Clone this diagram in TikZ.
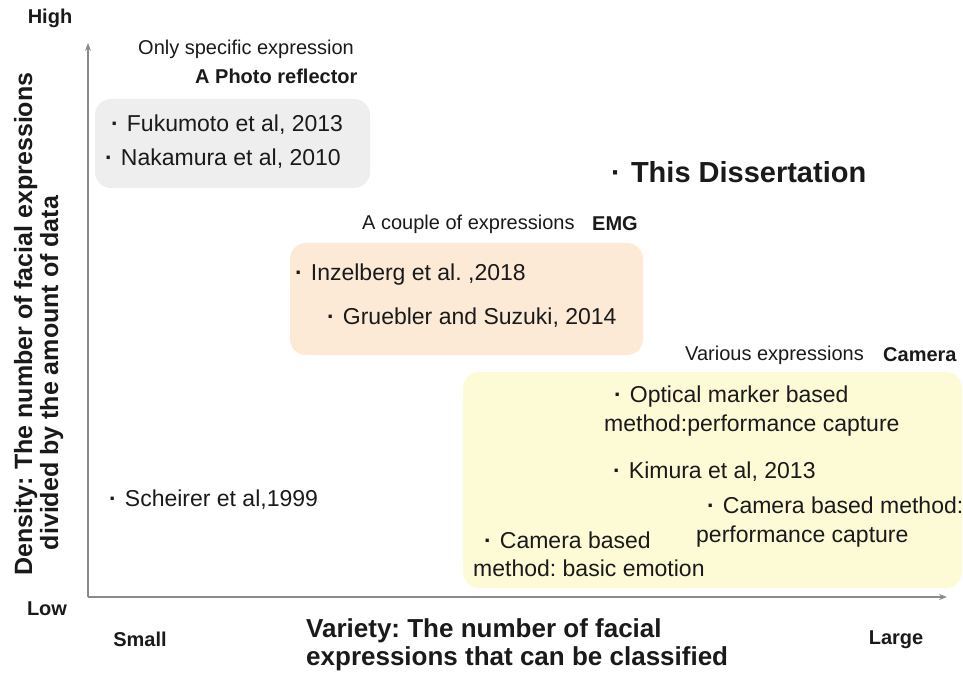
\documentclass[tikz,border=0pt]{standalone}
\usepackage{fontspec}
\setmainfont{Liberation Sans}
\usetikzlibrary{arrows.meta}
\definecolor{axisgray}{HTML}{8A8A8A}
\definecolor{boxgray}{HTML}{EEEEEE}
\definecolor{boxorange}{HTML}{FCE9D6}
\definecolor{boxyellow}{HTML}{FDFAD6}
\definecolor{txt}{HTML}{1A1A1A}
\newcommand\mydot{{\bfseries ·}\hspace{0.35em}}
\tikzset{
  axisline/.style={draw=axisgray, line width=1.4pt, -{Stealth[length=8pt,width=6pt]}},
  regionbox/.style={rounded corners=16pt, draw=none},
  itemtxt/.style={anchor=west, inner sep=0pt, font=\fontsize{23}{27}\selectfont, text=txt},
  captxt/.style={anchor=west, inner sep=0pt, font=\fontsize{20}{24}\selectfont, text=txt},
  captxtb/.style={anchor=west, inner sep=0pt, font=\fontsize{20}{24}\selectfont\bfseries, text=txt},
  endlbl/.style={anchor=center, inner sep=0pt, font=\fontsize{20}{24}\selectfont\bfseries, text=txt},
  xtitle/.style={anchor=base west, inner sep=0pt, font=\fontsize{26}{30}\selectfont\bfseries, text=txt},
  ytitle/.style={anchor=base, rotate=90, inner sep=0pt, font=\fontsize{25}{30}\selectfont\bfseries, text=txt},
}
\begin{document}
\frenchspacing
\begin{tikzpicture}[x=1pt,y=-1pt]
\useasboundingbox (0,0) rectangle (963,673);
% regions
\fill[boxgray, regionbox] (95,99) rectangle (370,188);
\fill[boxorange, regionbox] (290,243) rectangle (643,355);
\fill[boxyellow, regionbox] (463,372) rectangle (962,588);
% axes
\coordinate (O) at (88,597);
\coordinate (Ytop) at (88,43);
\coordinate (Xend) at (947,597);
\draw[axisline] (O) -- (Ytop);
\draw[axisline] (O) -- (Xend);
% axis end labels
\node[endlbl] (high) at (50,18) {High};
\node[endlbl] (low) at (47,609) {Low};
\node[endlbl] (smalll) at (140,639) {Small};
\node[endlbl] (large) at (896,640) {Large};
% axis titles
\node[xtitle] (xt1) at (306,637) {Variety: The number of facial};
\node[xtitle] (xt2) at (306,665) {expressions that can be classified};
\node[ytitle] (yt1) at (32,324) {Density: The number of facial expressions};
\node[ytitle] (yt2) at (58,373) {divided by the amount of data};
% gray group
\node[captxt] (c1) at (138,49) {Only specific expression};
\node[captxtb] (c1b) at (195,76) {A Photo reflector};
\node[itemtxt] (fuku) at (111,125) {\mydot Fukumoto et al, 2013};
\node[itemtxt] (naka) at (105,159) {\mydot Nakamura et al, 2010};
% this dissertation
\node[itemtxt, font=\fontsize{29}{33}\selectfont\bfseries] (this) at (611,172) {\mydot This Dissertation};
% EMG group
\node[captxt] (c2) at (362,224) {A couple of expressions};
\node[captxtb] (c2b) at (592,224) {EMG};
\node[itemtxt] (inz) at (295,275) {\mydot Inzelberg et al. ,2018};
\node[itemtxt] (grue) at (327,318) {\mydot Gruebler and Suzuki, 2014};
% camera group
\node[captxt] (c3) at (685,355) {Various expressions};
\node[captxtb] (c3b) at (883,355) {Camera};
\node[itemtxt] (opt1) at (614,397) {\mydot Optical marker based};
\node[itemtxt] (opt2) at (604,426) {method:performance capture};
\node[itemtxt] (kim) at (613,472) {\mydot Kimura et al, 2013};
\node[itemtxt] (cam1) at (707,505) {\mydot Camera based method:};
\node[itemtxt] (cam2) at (696,537) {performance capture};
\node[itemtxt] (camb1) at (484,540) {\mydot Camera based};
\node[itemtxt] (camb2) at (473,568) {method: basic emotion};
% scheirer
\node[itemtxt] (sch) at (109,500) {\mydot Scheirer et al,1999};
\end{tikzpicture}
\end{document}
